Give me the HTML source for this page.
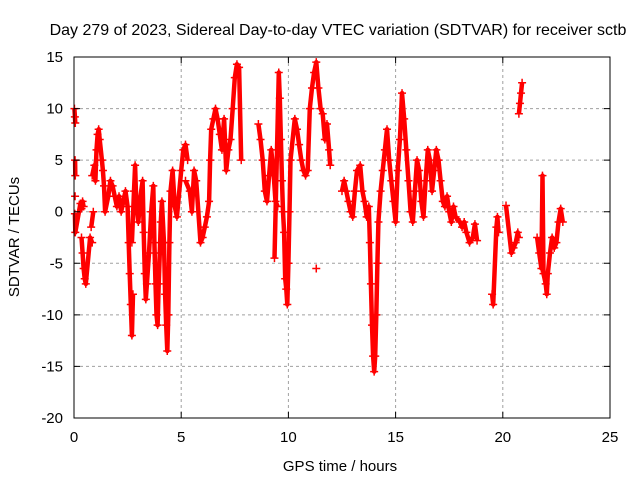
<!DOCTYPE html>
<html><head><meta charset="utf-8"><style>
body{margin:0;background:#fff}
svg text{font-family:"Liberation Sans",sans-serif;fill:#000}
</style></head><body>
<svg id="chart" width="640" height="480" viewBox="0 0 640 480" xmlns="http://www.w3.org/2000/svg">
<rect width="640" height="480" fill="#fff"/>
<g id="grid"></g>
<g id="series"></g>
<rect x="74" y="57" width="536" height="361" fill="none" stroke="#000" stroke-width="1"/>
<g id="ticks"></g>
<text x="338" y="35" font-size="16" text-anchor="middle">Day 279 of 2023, Sidereal Day-to-day VTEC variation (SDTVAR) for receiver sctb</text>
<text x="340" y="471" font-size="15" text-anchor="middle">GPS time / hours</text>
<text x="19" y="237" font-size="15" text-anchor="middle" transform="rotate(-90 19 237)">SDTVAR / TECUs</text>
</svg>
<script>
const xTicks=[0,5,10,15,20,25];
const yTicks=[15,10,5,0,-5,-10,-15,-20];
const times=[0.02,0.04,0.06,0.05,0.06,0.05,0.04,0.06,
0.3,0.35,0.4,0.45,0.35,0.4,0.45,0.5,0.55,
0.75,0.85,0.8,0.9,0.85,0.95,1.0,1.05,1.1,1.15,1.2,1.3,1.35,1.4,1.45,
1.6,1.7,1.8,1.9,2.0,2.1,2.2,2.3,2.4,2.5,2.55,2.6,2.65,2.7,2.75,2.7,2.8,2.85,2.9,
3.0,3.1,3.2,3.25,3.3,3.35,3.4,3.5,3.6,3.7,3.75,3.8,3.85,3.9,3.95,4.0,4.05,4.1,4.2,4.25,4.3,4.35,4.4,4.45,4.5,4.6,4.7,4.8,
5.0,5.1,5.2,5.3,5.2,5.4,5.5,5.6,5.7,
5.9,6.0,6.1,6.2,6.3,6.35,6.4,6.5,6.6,6.7,6.8,6.9,7.0,7.1,
7.2,7.3,7.4,7.5,7.6,7.7,7.8,
8.6,8.7,8.8,8.9,9.0,9.1,9.2,9.3,9.4,9.5,9.35,
9.55,9.6,9.65,9.7,9.75,9.8,9.85,9.9,9.95,10.0,10.05,10.1,
10.3,10.4,10.5,10.6,10.7,10.8,10.9,
11.0,11.1,11.2,11.3,11.4,11.5,11.6,11.7,11.8,11.9,11.95,
11.3,
12.5,12.6,12.7,12.8,12.9,13.0,13.1,13.2,
13.35,13.45,13.55,13.65,13.75,13.8,13.85,13.9,13.95,14.0,14.05,14.1,14.15,14.2,14.3,14.4,14.5,14.6,14.7,14.8,14.9,15.0,
15.1,15.2,15.3,15.4,15.5,15.6,15.7,15.8,15.9,16.0,16.1,16.2,16.3,
16.4,16.5,16.6,16.7,16.8,16.9,17.0,17.1,17.2,17.3,17.4,17.5,17.6,17.7,17.8,
18.0,18.1,18.2,18.3,18.45,18.6,18.7,18.8,
19.5,19.55,19.7,19.75,19.8,
20.15,
20.4,20.5,20.6,20.7,20.75,
20.75,20.8,20.85,20.9,
21.6,21.7,21.8,21.85,21.9,22.0,22.05,22.1,22.2,22.3,22.4,22.5,22.6,22.7,22.8];
const values=[10,9.2,8.6,5,3.5,1.5,-0.2,-2,
0.8,0.3,1,0.5,-2.5,-4,-5.5,-6.5,-7,
-2.5,-3,-1.5,0,3.5,4.5,3,6,7.5,8,7,5,4,2.5,0,
1.5,3,2.5,1.5,0.5,1.5,0,1,2,0.5,-3,-6,-9,-12,-8,-3,2,4.5,1,
-1,1.5,3,-2,-6,-8.5,-7,-4,0,2.5,-3,-7,-10,-11,-7,-4,-1,1,-3,-8,-11,-13.5,-10,-3,2,4,0.5,-0.5,
4,6,6.5,5,3,2,0,4,3,
-3,-2.5,-1.5,-0.5,1,5,8,9,10,9,7.5,6,9,4,
6,7,10,13,14.3,14,5,
8.5,7,5,2,1,3.5,6,4,1,0.5,-4.5,
13.5,11,7,3,0,-2,-6.5,-7.5,-9,-5,0,5,
9,8,6.5,5,4,3.5,4,
10,12,13.5,14.5,12,10,9.5,7,8.5,6,4.5,
-5.5,
2,3,2,1,0,-0.5,2,4,
4.5,2,1,-0.5,0.5,-3,-7,-11,-14,-15.5,-14,-10,-5,-1,2,4,6,8,5,3,1,-1,
4,7,11.5,9,6,3,0,-1,2,5,4,1,-0.5,
3,6,5,2,4,6,5,3,1,0.5,1.5,0,-1,0.5,-0.5,
-1,-1.5,-1,-2,-3,-2.5,-1.2,-2.8,
-8,-9,-1.5,-0.5,-2,
0.6,
-4,-3.5,-3,-2,-2.5,
9.5,10.5,11.5,12.5,
-2.5,-4,-5.5,3.5,-6,-7,-8,-6,-4,-2.5,-3.5,-3,-1,0.3,-1];

const X0=74,X1=610,Y0=418,Y1=57;
function sx(t){return X0+(t-0)/(25-0)*(X1-X0);}
function sy(v){return Y0-(v+20)/(15+20)*(Y0-Y1);}
const NS='http://www.w3.org/2000/svg';
const grid=document.getElementById('grid'),ticks=document.getElementById('ticks'),ser=document.getElementById('series');
xTicks.forEach(t=>{
  const x=sx(t);
  if(t>0&&t<25){const g=document.createElementNS(NS,'line');
  
  
  g.setAttribute('x1',x);g.setAttribute('x2',x);g.setAttribute('y1',Y1);g.setAttribute('y2',Y0);
  g.setAttribute('stroke','#a0a0a0');g.setAttribute('stroke-dasharray','3,3');grid.appendChild(g);}
  const tk=document.createElementNS(NS,'path');
  
  
  tk.setAttribute('d',`M${x} ${Y0}v-6M${x} ${Y1}v6`);tk.setAttribute('stroke','#000');ticks.appendChild(tk);
  const lb=document.createElementNS(NS,'text');
  
  
  lb.setAttribute('x',x);lb.setAttribute('y',442);lb.setAttribute('font-size','15');lb.setAttribute('text-anchor','middle');
  lb.textContent=t;ticks.appendChild(lb);
});
yTicks.forEach(v=>{
  const y=sy(v);
  if(v>-20&&v<15){const g=document.createElementNS(NS,'line');
  
  
  g.setAttribute('x1',X0);g.setAttribute('x2',X1);g.setAttribute('y1',y);g.setAttribute('y2',y);
  g.setAttribute('stroke','#a0a0a0');g.setAttribute('stroke-dasharray','3,3');grid.appendChild(g);}
  const tk=document.createElementNS(NS,'path');
  
  
  tk.setAttribute('d',`M${X0} ${y}h6M${X1} ${y}h-6`);tk.setAttribute('stroke','#000');ticks.appendChild(tk);
  const lb=document.createElementNS(NS,'text');
  
  
  lb.setAttribute('x',63);lb.setAttribute('y',y+5);lb.setAttribute('font-size','15');lb.setAttribute('text-anchor','end');
  lb.textContent=v;ticks.appendChild(lb);
});
let d='';
for(let i=0;i<times.length;i++){
  const dt=i>0?times[i]-times[i-1]:-1;
  d+=(dt>0&&dt<=0.3?'L':'M')+sx(times[i]).toFixed(1)+' '+sy(values[i]).toFixed(1);
}
const pl=document.createElementNS(NS,'path');


pl.setAttribute('d',d);pl.setAttribute('fill','none');pl.setAttribute('stroke','#f00');pl.setAttribute('stroke-width','4.5');pl.setAttribute('stroke-linejoin','round');
ser.appendChild(pl);
for(let i=0;i<times.length;i++){
  const x=sx(times[i]),y=sy(values[i]);
  const p=document.createElementNS(NS,'path');
  
  
  p.setAttribute('d',`M${x-4} ${y}h8M${x} ${y-4}v8`);p.setAttribute('stroke','#f00');p.setAttribute('stroke-width','1.5');
  ser.appendChild(p);
}
</script>
</body></html>
